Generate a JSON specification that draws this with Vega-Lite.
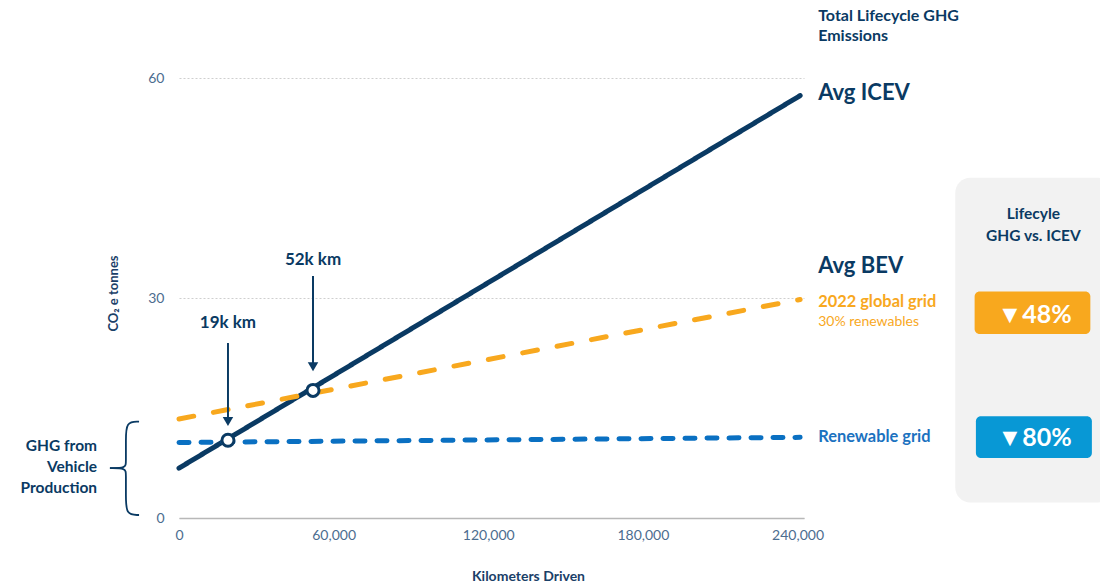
{
  "$schema": "https://vega.github.io/schema/vega-lite/v6.json",
  "width": 625,
  "height": 440,
  "autosize": {"type": "none"},
  "padding": {"left": 179, "top": 78, "right": 296, "bottom": 66},
  "background": "white",
  "config": {
    "view": {"stroke": null},
    "font": "Lato",
    "text": {"font": "Lato"}
  },
  "datasets": {
    "panel": [{"km": 301200, "km2": 362000, "t": 46.4, "t2": 2.1}],
    "badges": [
      {"grid": "2022 global grid", "km": 308700, "km2": 353600, "t": 30.9, "t2": 25.1},
      {"grid": "Renewable grid", "km": 309200, "km2": 354200, "t": 13.86, "t2": 8.18}
    ],
    "badge_text": [
      {"grid": "2022 global grid", "text": "▼48%", "km": 332000, "t": 27.7},
      {"grid": "Renewable grid", "text": "▼80%", "km": 332000, "t": 10.9}
    ],
    "lines": [
      {"series": "Avg ICEV", "km": 0, "t": 6.8},
      {"series": "Avg ICEV", "km": 241000, "t": 57.6},
      {"series": "2022 global grid", "km": 0, "t": 13.5},
      {"series": "2022 global grid", "km": 241000, "t": 29.8},
      {"series": "Renewable grid", "km": 0, "t": 10.3},
      {"series": "Renewable grid", "km": 241000, "t": 11.0}
    ],
    "crossings": [
      {"label": "19k km", "km": 19000, "t": 10.6},
      {"label": "52k km", "km": 52000, "t": 17.4}
    ],
    "arrow_shafts": [
      {"km": 19000, "t": 23.86, "t2": 12.95},
      {"km": 52000, "t": 33.0, "t2": 20.45}
    ],
    "arrow_heads": [
      {"km": 19000, "t": 13.17},
      {"km": 52000, "t": 20.62}
    ],
    "crossing_labels": [
      {"text": "19k km", "km": 19000, "t": 26.6},
      {"text": "52k km", "km": 52000, "t": 35.2}
    ],
    "notes": [
      {"role": "heading", "text": "Total Lifecycle GHG", "km": 248000, "t": 68.4},
      {"role": "heading", "text": "Emissions", "km": 248000, "t": 65.7},
      {"role": "series", "text": "Avg ICEV", "km": 248000, "t": 58.0},
      {"role": "series", "text": "Avg BEV", "km": 248000, "t": 34.3},
      {"role": "global", "text": "2022 global grid", "km": 248000, "t": 29.4},
      {"role": "global_sub", "text": "30% renewables", "km": 248000, "t": 26.7},
      {"role": "renewable", "text": "Renewable grid", "km": 248000, "t": 11.0},
      {"role": "production", "text": "GHG from", "km": -31800, "t": 9.82},
      {"role": "production", "text": "Vehicle", "km": -31800, "t": 6.95},
      {"role": "production", "text": "Production", "km": -31800, "t": 4.09},
      {"role": "panel", "text": "Lifecyle", "km": 331500, "t": 41.45},
      {"role": "panel", "text": "GHG vs. ICEV", "km": 331500, "t": 38.45}
    ],
    "brace": [
      {"part": "upper", "i": 0, "km": -15500, "t": 13.13},
      {"part": "upper", "i": 1, "km": -20600, "t": 13.13},
      {"part": "upper", "i": 2, "km": -20600, "t": 10.6},
      {"part": "upper", "i": 3, "km": -20600, "t": 7.6},
      {"part": "upper", "i": 4, "km": -20600, "t": 6.8},
      {"part": "upper", "i": 5, "km": -26800, "t": 6.8},
      {"part": "lower", "i": 0, "km": -26800, "t": 6.8},
      {"part": "lower", "i": 1, "km": -20600, "t": 6.8},
      {"part": "lower", "i": 2, "km": -20600, "t": 6.0},
      {"part": "lower", "i": 3, "km": -20600, "t": 3.0},
      {"part": "lower", "i": 4, "km": -20600, "t": 0.41},
      {"part": "lower", "i": 5, "km": -15500, "t": 0.41}
    ]
  },
  "encoding": {
    "x": {
      "field": "km",
      "type": "quantitative",
      "scale": {"domain": [0, 242500], "nice": false, "zero": false},
      "axis": {
        "values": [0, 60000, 120000, 180000, 240000],
        "format": ",.0f",
        "title": "Kilometers Driven",
        "titleX": 349,
        "titleY": 58,
        "titleAlign": "center",
        "titleBaseline": "middle",
        "titleFontSize": 14,
        "titleFontWeight": "bold",
        "titleColor": "#1a4068",
        "labelColor": "#4c6d8f",
        "labelFontSize": 14,
        "labelPadding": 10,
        "labelFlush": false,
        "labelOverlap": false,
        "ticks": false,
        "grid": false,
        "domainColor": "#b8b8b8",
        "domainWidth": 1.5
      }
    },
    "y": {
      "field": "t",
      "type": "quantitative",
      "scale": {"domain": [0, 60], "nice": false, "zero": false},
      "axis": {
        "values": [0, 30, 60],
        "title": "CO₂ e tonnes",
        "titleX": -66,
        "titleY": 215,
        "titleAngle": -90,
        "titleAlign": "center",
        "titleBaseline": "middle",
        "titleFontSize": 13,
        "titleFontWeight": "bold",
        "titleColor": "#1a4068",
        "labelColor": "#4c6d8f",
        "labelFontSize": 14,
        "labelPadding": 15,
        "ticks": false,
        "domain": false,
        "grid": true,
        "gridColor": "#cfcfcf",
        "gridDash": [2, 2],
        "gridWidth": 1
      }
    }
  },
  "layer": [
    {
      "data": {"name": "panel"},
      "mark": {"type": "rect", "fill": "#f2f2f2", "cornerRadius": 15},
      "encoding": {"x2": {"field": "km2"}, "y2": {"field": "t2"}}
    },
    {
      "data": {"name": "badges"},
      "mark": {"type": "rect", "cornerRadius": 5},
      "encoding": {
        "x2": {"field": "km2"},
        "y2": {"field": "t2"},
        "fill": {
          "field": "grid",
          "type": "nominal",
          "scale": {"domain": ["2022 global grid", "Renewable grid"], "range": ["#f8a81e", "#0898d5"]},
          "legend": null
        }
      }
    },
    {
      "data": {"name": "badge_text"},
      "mark": {"type": "text", "font": "Lato", "fontSize": 25, "fontWeight": "bold", "color": "white", "align": "center", "baseline": "middle"},
      "encoding": {"text": {"field": "text"}}
    },
    {
      "data": {"name": "lines"},
      "mark": {"type": "line", "strokeWidth": 5, "strokeCap": "round"},
      "encoding": {
        "color": {
          "field": "series",
          "type": "nominal",
          "scale": {"domain": ["Avg ICEV", "2022 global grid", "Renewable grid"], "range": ["#0a3a63", "#f8a81e", "#0a70c2"]},
          "legend": null
        },
        "strokeDash": {
          "field": "series",
          "type": "nominal",
          "scale": {"domain": ["Avg ICEV", "2022 global grid", "Renewable grid"], "range": [[1, 0], [15, 20], [10, 12]]},
          "legend": null
        }
      }
    },
    {
      "data": {"name": "arrow_shafts"},
      "mark": {"type": "rule", "color": "#0a3a63", "strokeWidth": 2},
      "encoding": {"y2": {"field": "t2"}}
    },
    {
      "data": {"name": "arrow_heads"},
      "mark": {"type": "point", "shape": "triangle-down", "filled": true, "color": "#0a3a63", "opacity": 1, "size": 110},
      "encoding": {}
    },
    {
      "data": {"name": "crossings"},
      "mark": {"type": "point", "shape": "circle", "filled": true, "fill": "white", "stroke": "#0a3a63", "strokeWidth": 3, "opacity": 1, "size": 145},
      "encoding": {}
    },
    {
      "data": {"name": "crossing_labels"},
      "mark": {"type": "text", "fontSize": 17, "fontWeight": "bold", "color": "#0a3a63", "align": "center", "baseline": "middle"},
      "encoding": {"text": {"field": "text"}}
    },
    {
      "data": {"name": "brace"},
      "mark": {"type": "line", "interpolate": "basis", "color": "#0a3a63", "strokeWidth": 1.8},
      "encoding": {"detail": {"field": "part"}, "order": {"field": "i"}}
    },
    {
      "data": {"name": "notes"},
      "transform": [{"filter": "datum.role === 'heading'"}],
      "mark": {"type": "text", "fontSize": 16, "fontWeight": "bold", "color": "#0a3a63", "align": "left", "baseline": "middle"},
      "encoding": {"text": {"field": "text"}}
    },
    {
      "data": {"name": "notes"},
      "transform": [{"filter": "datum.role === 'series'"}],
      "mark": {"type": "text", "fontSize": 22, "fontWeight": "bold", "color": "#0a3a63", "align": "left", "baseline": "middle"},
      "encoding": {"text": {"field": "text"}}
    },
    {
      "data": {"name": "notes"},
      "transform": [{"filter": "datum.role === 'global'"}],
      "mark": {"type": "text", "fontSize": 16.4, "fontWeight": "bold", "color": "#f8a81e", "align": "left", "baseline": "middle"},
      "encoding": {"text": {"field": "text"}}
    },
    {
      "data": {"name": "notes"},
      "transform": [{"filter": "datum.role === 'global_sub'"}],
      "mark": {"type": "text", "fontSize": 14, "color": "#f8a81e", "align": "left", "baseline": "middle"},
      "encoding": {"text": {"field": "text"}}
    },
    {
      "data": {"name": "notes"},
      "transform": [{"filter": "datum.role === 'renewable'"}],
      "mark": {"type": "text", "fontSize": 16.4, "fontWeight": "bold", "color": "#1b72c0", "align": "left", "baseline": "middle"},
      "encoding": {"text": {"field": "text"}}
    },
    {
      "data": {"name": "notes"},
      "transform": [{"filter": "datum.role === 'production'"}],
      "mark": {"type": "text", "fontSize": 15.5, "fontWeight": "bold", "color": "#0a3a63", "align": "right", "baseline": "middle"},
      "encoding": {"text": {"field": "text"}}
    },
    {
      "data": {"name": "notes"},
      "transform": [{"filter": "datum.role === 'panel'"}],
      "mark": {"type": "text", "fontSize": 15.5, "fontWeight": "bold", "color": "#0a3a63", "align": "center", "baseline": "middle"},
      "encoding": {"text": {"field": "text"}}
    }
  ]
}
